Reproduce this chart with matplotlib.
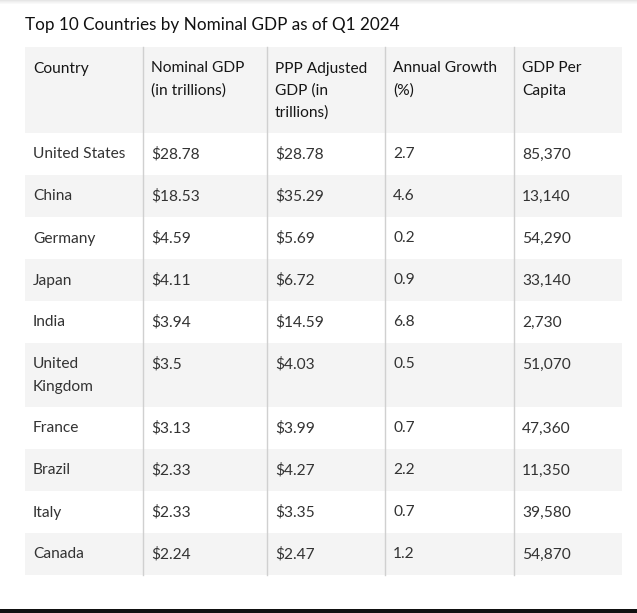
import matplotlib
matplotlib.use("Agg")
import matplotlib.pyplot as plt
from matplotlib.patches import Rectangle

title = "Top 10 Countries by Nominal GDP as of Q1 2024"
headers = ["Country", "Nominal GDP\n(in trillions)", "PPP Adjusted\nGDP (in\ntrillions)",
           "Annual Growth\n(%)", "GDP Per\nCapita"]
countries = ["United States", "China", "Germany", "Japan", "India", "United\nKingdom",
             "France", "Brazil", "Italy", "Canada"]
nominal_gdp = ["$28.78", "$18.53", "$4.59", "$4.11", "$3.94", "$3.5", "$3.13", "$2.33", "$2.33", "$2.24"]
ppp_gdp = ["$28.78", "$35.29", "$5.69", "$6.72", "$14.59", "$4.03", "$3.99", "$4.27", "$3.35", "$2.47"]
growth = ["2.7", "4.6", "0.2", "0.9", "6.8", "0.5", "0.7", "2.2", "0.7", "1.2"]
per_capita = ["85,370", "13,140", "54,290", "33,140", "2,730", "51,070", "47,360", "11,350", "39,580", "54,870"]

W, H = 637, 613
fig = plt.figure(figsize=(W / 100, H / 100), dpi=100)
ax = fig.add_axes([0, 0, 1, 1])
ax.set_xlim(0, W)
ax.set_ylim(H, 0)
ax.axis("off")

font = "Lato"
col_x = [25, 143, 267, 385, 514, 622]  # column edges
pad = 8
line_h = 22
gray = "#f4f4f4"
sep = "#d0d0d0"

# top shadow
for k, c in enumerate(["#e6e6e6", "#eeeeee", "#f4f4f4", "#f9f9f9"]):
    ax.add_patch(Rectangle((0, k), W, 1, color=c, lw=0))

ax.text(25, 30, title, fontsize=12.3, family=font, color="#111111", va="baseline", ha="left")

rows = [headers] + [list(r) for r in zip(countries, nominal_gdp, ppp_gdp, growth, per_capita)]
y = 47
for i, row in enumerate(rows):
    nlines = max(cell.count("\n") + 1 for cell in row)
    h = 42 + line_h * (nlines - 1)
    if i % 2 == 0:
        ax.add_patch(Rectangle((col_x[0], y), col_x[-1] - col_x[0], h, color=gray, lw=0))
    for j, cell in enumerate(row):
        for k, line in enumerate(cell.split("\n")):
            ax.text(col_x[j] + pad, y + 25.5 + k * line_h, line, fontsize=11.2,
                    family=font, color="#161616" if i == 0 else "#333333",
                    va="baseline", ha="left")
    y += h

for x in col_x[1:-1]:
    ax.plot([x, x], [47, y], color=sep, lw=1)

# bottom rule
ax.add_patch(Rectangle((0, 608.5), W, 4.5, color="#111111", lw=0))

fig.savefig("out.png", dpi=100)
